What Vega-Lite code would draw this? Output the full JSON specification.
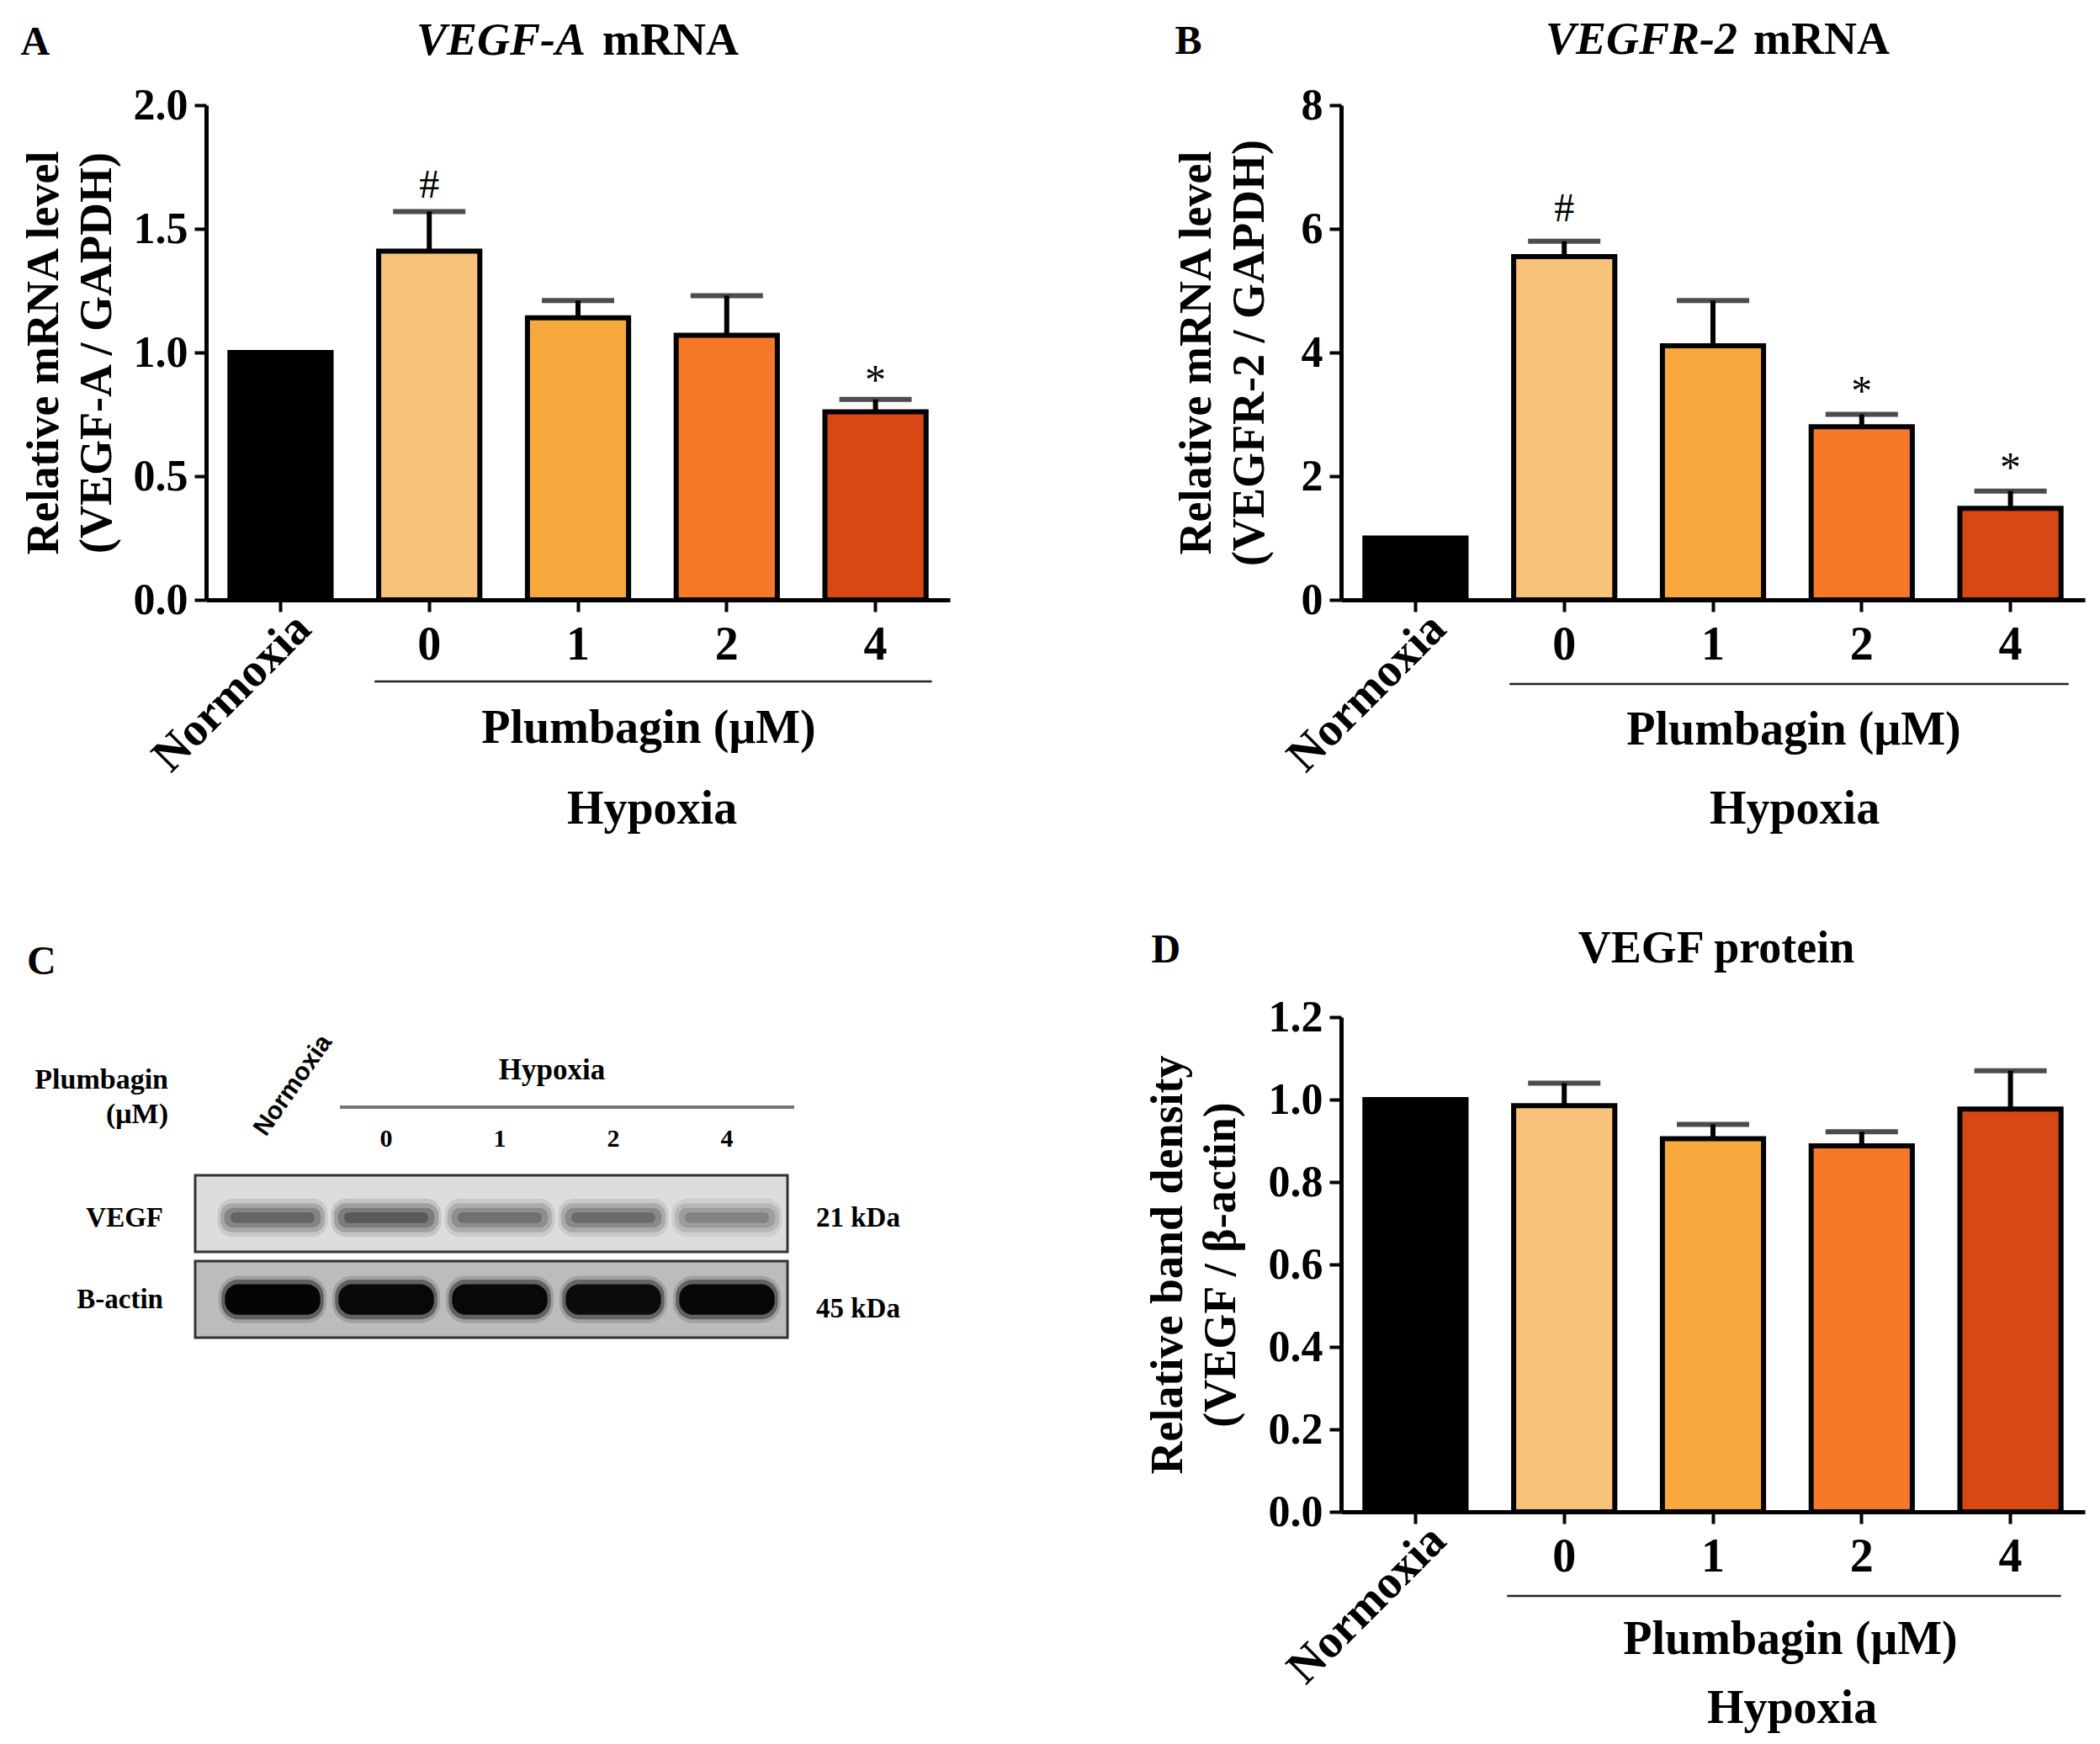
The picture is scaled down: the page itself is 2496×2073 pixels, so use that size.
{
  "$schema": "https://vega.github.io/schema/vega-lite/v6.json",
  "background": "white",
  "padding": {"left": 24, "top": 21, "right": 10, "bottom": 10},
  "bounds": "flush",
  "spacing": 1349,
  "config": {
    "view": {"stroke": null},
    "font": "Liberation Serif",
    "axis": {"domainColor": "black", "domainWidth": 5, "tickColor": "black", "tickWidth": 4, "tickSize": 14, "labelFont": "Liberation Serif", "labelFontWeight": "bold", "labelColor": "black", "titleFont": "Liberation Serif", "titleFontWeight": "bold", "titleColor": "black", "titleFontSize": 54, "grid": false, "labelOverlap": false, "labelBound": false, "labelFlush": false, "labelLimit": 0},
    "text": {"font": "Liberation Serif", "fontWeight": "bold", "color": "black"}
  },
  "datasets": {
    "A": [
      {"group": "Normoxia", "mean": 1.0, "upper": null, "sig": ""},
      {"group": "0", "mean": 1.41, "upper": 1.57, "sig": "#"},
      {"group": "1", "mean": 1.14, "upper": 1.21, "sig": ""},
      {"group": "2", "mean": 1.07, "upper": 1.23, "sig": ""},
      {"group": "4", "mean": 0.76, "upper": 0.81, "sig": "*"}
    ],
    "B": [
      {"group": "Normoxia", "mean": 1.0, "upper": null, "sig": ""},
      {"group": "0", "mean": 5.55, "upper": 5.8, "sig": "#"},
      {"group": "1", "mean": 4.11, "upper": 4.84, "sig": ""},
      {"group": "2", "mean": 2.8, "upper": 3.0, "sig": "*"},
      {"group": "4", "mean": 1.48, "upper": 1.76, "sig": "*"}
    ],
    "D": [
      {"group": "Normoxia", "mean": 1.0, "upper": null, "sig": ""},
      {"group": "0", "mean": 0.985, "upper": 1.04, "sig": ""},
      {"group": "1", "mean": 0.905, "upper": 0.94, "sig": ""},
      {"group": "2", "mean": 0.888, "upper": 0.922, "sig": ""},
      {"group": "4", "mean": 0.977, "upper": 1.07, "sig": ""}
    ],
    "boxes": [{"protein": "VEGF"}, {"protein": "B-actin"}],
    "blot": [
      {"protein": "VEGF", "lane": "Normoxia", "intensity": 0.8},
      {"protein": "VEGF", "lane": "0", "intensity": 0.9},
      {"protein": "VEGF", "lane": "1", "intensity": 0.7},
      {"protein": "VEGF", "lane": "2", "intensity": 0.75},
      {"protein": "VEGF", "lane": "4", "intensity": 0.55},
      {"protein": "B-actin", "lane": "Normoxia", "intensity": 1.0},
      {"protein": "B-actin", "lane": "0", "intensity": 0.97},
      {"protein": "B-actin", "lane": "1", "intensity": 0.97},
      {"protein": "B-actin", "lane": "2", "intensity": 0.93},
      {"protein": "B-actin", "lane": "4", "intensity": 0.98}
    ]
  },
  "hconcat": [
    {
      "bounds": "flush",
      "spacing": 684,
      "vconcat": [
        {
          "width": 884, "height": 588,
          "data": {"name": "A"},
          "layer": [
            {"mark": {"type": "bar", "stroke": "black", "strokeWidth": 6},
             "encoding": {
               "x": {"field": "group", "type": "nominal", "sort": null, "scale": {"domain": ["Normoxia", "0", "1", "2", "4"], "paddingInner": 0.32, "paddingOuter": 0.16},
                     "axis": {"title": null, "labelFontSize": 56,
                              "labelAngle": {"expr": "datum.value === 'Normoxia' ? -45 : 0"},
                              "labelAlign": {"expr": "datum.value === 'Normoxia' ? 'right' : 'center'"},
                              "labelBaseline": {"expr": "datum.value === 'Normoxia' ? 'middle' : 'top'"},
                              "labelOffset": {"expr": "datum.value === 'Normoxia' ? 27 : 0"},
                              "labelPadding": {"expr": "datum.value === 'Normoxia' ? 11 : 12"}}},
               "y": {"field": "mean", "type": "quantitative", "scale": {"domain": [0, 2], "nice": false},
                     "axis": {"values": [0, 0.5, 1, 1.5, 2], "format": ".1f", "labelFontSize": 52, "labelPadding": 8, "title": ["Relative mRNA level", "(VEGF-A / GAPDH)"], "titlePadding": 16, "titleLineHeight": 63}},
               "color": {"field": "group", "type": "nominal", "scale": {"domain": ["Normoxia", "0", "1", "2", "4"], "range": ["#000000", "#F8C27A", "#F7A93E", "#F67929", "#D74814"]}, "legend": null}
             }},
            {"transform": [{"filter": "datum.upper != null"}], "mark": {"type": "rule", "strokeWidth": 6, "color": "black"},
             "encoding": {"x": {"field": "group", "type": "nominal"}, "y": {"field": "mean", "type": "quantitative"}, "y2": {"field": "upper"}}},
            {"transform": [{"filter": "datum.upper != null"}], "mark": {"type": "tick", "thickness": 6, "size": 86, "color": "black"},
             "encoding": {"x": {"field": "group", "type": "nominal"}, "y": {"field": "upper", "type": "quantitative"}}},
            {"transform": [{"filter": "datum.sig === '#'"}], "mark": {"type": "text", "text": "#", "fontSize": 48, "fontWeight": "normal", "dy": -16, "baseline": "alphabetic"},
             "encoding": {"x": {"field": "group", "type": "nominal"}, "y": {"field": "upper", "type": "quantitative"}}},
            {"transform": [{"filter": "datum.sig === '*'"}], "mark": {"type": "text", "text": "*", "fontSize": 50, "fontWeight": "normal", "dy": -7, "baseline": "alphabetic"},
             "encoding": {"x": {"field": "group", "type": "nominal"}, "y": {"field": "upper", "type": "quantitative"}}},
            {"data": {"values": [{}]}, "mark": {"type": "rule", "color": "#222222", "strokeWidth": 2.5, "xOffset": -65, "x2Offset": 67, "yOffset": 97},
             "encoding": {"x": {"datum": "0"}, "x2": {"datum": "4"}, "y": {"datum": 0}}},
            {"data": {"values": [{}]}, "mark": {"type": "text", "text": "Plumbagin (μM)", "fontSize": 56, "dx": 84, "dy": 170, "baseline": "alphabetic"},
             "encoding": {"x": {"datum": "1"}, "y": {"datum": 0}}},
            {"data": {"values": [{}]}, "mark": {"type": "text", "text": "Hypoxia", "fontSize": 56, "dx": 88, "dy": 266, "baseline": "alphabetic"},
             "encoding": {"x": {"datum": "1"}, "y": {"datum": 0}}},
            {"data": {"values": [{}]}, "mark": {"type": "text", "text": "A", "fontSize": 48, "align": "left", "dx": -309, "dy": -60, "baseline": "alphabetic"},
             "encoding": {"x": {"datum": "Normoxia"}, "y": {"datum": 2}}},
            {"data": {"values": [{}]}, "mark": {"type": "text", "text": "VEGF-A", "fontSize": 54, "fontStyle": "italic", "align": "right", "dx": 9, "dy": -60, "baseline": "alphabetic"},
             "encoding": {"x": {"datum": "1"}, "y": {"datum": 2}}},
            {"data": {"values": [{}]}, "mark": {"type": "text", "text": "mRNA", "fontSize": 54, "align": "left", "dx": 29, "dy": -60, "baseline": "alphabetic"},
             "encoding": {"x": {"datum": "1"}, "y": {"datum": 2}}}
          ]
        },
        {
          "width": 695, "height": 193,
          "layer": [
            {"data": {"name": "boxes"}, "mark": {"type": "rect", "stroke": "#333333", "strokeWidth": 3, "xOffset": -92, "x2Offset": 72},
             "encoding": {"x": {"datum": "Normoxia", "scale": {"domain": ["Normoxia", "0", "1", "2", "4"], "paddingInner": 0, "paddingOuter": 0.074, "align": 0.575}, "axis": null},
                          "x2": {"datum": "4"},
                          "y": {"field": "protein", "type": "nominal", "sort": null, "scale": {"domain": ["VEGF", "B-actin"], "paddingInner": 0.11, "paddingOuter": 0}, "axis": null},
                          "fill": {"field": "protein", "type": "nominal", "scale": {"domain": ["VEGF", "B-actin"], "range": ["#dddddd", "#bcbcbc"]}, "legend": null}}},
            {"data": {"name": "blot"}, "transform": [{"filter": "datum.protein === 'VEGF'"}],
             "mark": {"type": "rect", "color": "black", "fillOpacity": 0.12, "cornerRadius": 18, "width": {"band": 0.97}, "height": {"band": 0.5}, "yOffset": 5},
             "encoding": {"x": {"field": "lane", "type": "nominal"}, "y": {"field": "protein", "type": "nominal"},
                          "opacity": {"field": "intensity", "type": "quantitative", "scale": null, "legend": null}}},
            {"data": {"name": "blot"}, "transform": [{"filter": "datum.protein === 'VEGF'"}],
             "mark": {"type": "rect", "color": "black", "fillOpacity": 0.2, "cornerRadius": 14, "width": {"band": 0.92}, "height": {"band": 0.38}, "yOffset": 5},
             "encoding": {"x": {"field": "lane", "type": "nominal"}, "y": {"field": "protein", "type": "nominal"},
                          "opacity": {"field": "intensity", "type": "quantitative", "scale": null, "legend": null}}},
            {"data": {"name": "blot"}, "transform": [{"filter": "datum.protein === 'VEGF'"}],
             "mark": {"type": "rect", "color": "black", "fillOpacity": 0.25, "cornerRadius": 10, "width": {"band": 0.85}, "height": {"band": 0.26}, "yOffset": 5},
             "encoding": {"x": {"field": "lane", "type": "nominal"}, "y": {"field": "protein", "type": "nominal"},
                          "opacity": {"field": "intensity", "type": "quantitative", "scale": null, "legend": null}}},
            {"data": {"name": "blot"}, "transform": [{"filter": "datum.protein === 'VEGF'"}],
             "mark": {"type": "rect", "color": "black", "fillOpacity": 0.3, "cornerRadius": 6, "width": {"band": 0.74}, "height": {"band": 0.14}, "yOffset": 5},
             "encoding": {"x": {"field": "lane", "type": "nominal"}, "y": {"field": "protein", "type": "nominal"},
                          "opacity": {"field": "intensity", "type": "quantitative", "scale": null, "legend": null}}},
            {"data": {"name": "blot"}, "transform": [{"filter": "datum.protein === 'B-actin'"}],
             "mark": {"type": "rect", "color": "black", "fillOpacity": 0.15, "cornerRadius": 24, "width": {"band": 0.95}, "height": {"band": 0.62}},
             "encoding": {"x": {"field": "lane", "type": "nominal"}, "y": {"field": "protein", "type": "nominal"},
                          "opacity": {"field": "intensity", "type": "quantitative", "scale": null, "legend": null}}},
            {"data": {"name": "blot"}, "transform": [{"filter": "datum.protein === 'B-actin'"}],
             "mark": {"type": "rect", "color": "black", "fillOpacity": 0.4, "cornerRadius": 20, "width": {"band": 0.9}, "height": {"band": 0.52}},
             "encoding": {"x": {"field": "lane", "type": "nominal"}, "y": {"field": "protein", "type": "nominal"},
                          "opacity": {"field": "intensity", "type": "quantitative", "scale": null, "legend": null}}},
            {"data": {"name": "blot"}, "transform": [{"filter": "datum.protein === 'B-actin'"}],
             "mark": {"type": "rect", "color": "black", "fillOpacity": 0.95, "cornerRadius": 16, "width": {"band": 0.84}, "height": {"band": 0.4}},
             "encoding": {"x": {"field": "lane", "type": "nominal"}, "y": {"field": "protein", "type": "nominal"},
                          "opacity": {"field": "intensity", "type": "quantitative", "scale": null, "legend": null}}},
            {"data": {"name": "blot"}, "transform": [{"filter": "datum.protein === 'VEGF' && datum.lane !== 'Normoxia'"}],
             "mark": {"type": "text", "fontSize": 30, "dy": -79.5, "baseline": "alphabetic"},
             "encoding": {"x": {"field": "lane", "type": "nominal"}, "y": {"datum": "VEGF"}, "text": {"field": "lane"}}},
            {"data": {"values": [{}]}, "mark": {"type": "text", "text": "Normoxia", "font": "Liberation Sans", "fontSize": 30, "angle": -55, "align": "left", "baseline": "alphabetic", "dx": 69.5, "dy": -58.5},
             "encoding": {"x": {"datum": "Normoxia"}, "y": {"datum": "VEGF"}}},
            {"data": {"values": [{}]}, "mark": {"type": "text", "text": "Hypoxia", "fontSize": 35, "dx": 62, "dy": -159.5, "baseline": "alphabetic"},
             "encoding": {"x": {"datum": "1"}, "y": {"datum": "VEGF"}}},
            {"data": {"values": [{}]}, "mark": {"type": "rule", "color": "#777777", "strokeWidth": 4, "xOffset": -55, "x2Offset": 80, "yOffset": -126.5},
             "encoding": {"x": {"datum": "0"}, "x2": {"datum": "4"}, "y": {"datum": "VEGF"}}},
            {"data": {"values": [{}]}, "mark": {"type": "text", "text": "Plumbagin", "fontSize": 34, "align": "right", "dx": -124, "dy": -148.5, "baseline": "alphabetic"},
             "encoding": {"x": {"datum": "Normoxia"}, "y": {"datum": "VEGF"}}},
            {"data": {"values": [{}]}, "mark": {"type": "text", "text": "(μM)", "fontSize": 34, "align": "right", "dx": -124, "dy": -107.5, "baseline": "alphabetic"},
             "encoding": {"x": {"datum": "Normoxia"}, "y": {"datum": "VEGF"}}},
            {"data": {"values": [{}]}, "mark": {"type": "text", "text": "C", "fontSize": 48, "align": "left", "dx": -292, "dy": -284.5, "baseline": "alphabetic"},
             "encoding": {"x": {"datum": "Normoxia"}, "y": {"datum": "VEGF"}}},
            {"data": {"values": [{}]}, "mark": {"type": "text", "text": "VEGF", "fontSize": 33, "align": "right", "dx": -130, "dy": 5.5, "baseline": "middle"},
             "encoding": {"x": {"datum": "Normoxia"}, "y": {"datum": "VEGF"}}},
            {"data": {"values": [{}]}, "mark": {"type": "text", "text": "B-actin", "fontSize": 33, "align": "right", "dx": -130, "dy": 0, "baseline": "middle"},
             "encoding": {"x": {"datum": "Normoxia"}, "y": {"datum": "B-actin"}}},
            {"data": {"values": [{}]}, "mark": {"type": "text", "text": "21 kDa", "fontSize": 33, "align": "left", "dx": 106, "dy": 5.5, "baseline": "middle"},
             "encoding": {"x": {"datum": "4"}, "y": {"datum": "VEGF"}}},
            {"data": {"values": [{}]}, "mark": {"type": "text", "text": "45 kDa", "fontSize": 33, "align": "left", "dx": 106, "dy": 11.5, "baseline": "middle"},
             "encoding": {"x": {"datum": "4"}, "y": {"datum": "B-actin"}}}
          ]
        }
      ]
    },
    {
      "bounds": "flush",
      "spacing": 496,
      "vconcat": [
        {
          "width": 884, "height": 588,
          "data": {"name": "B"},
          "layer": [
            {"mark": {"type": "bar", "stroke": "black", "strokeWidth": 6},
             "encoding": {
               "x": {"field": "group", "type": "nominal", "sort": null, "scale": {"domain": ["Normoxia", "0", "1", "2", "4"], "paddingInner": 0.32, "paddingOuter": 0.16},
                     "axis": {"title": null, "labelFontSize": 56,
                              "labelAngle": {"expr": "datum.value === 'Normoxia' ? -45 : 0"},
                              "labelAlign": {"expr": "datum.value === 'Normoxia' ? 'right' : 'center'"},
                              "labelBaseline": {"expr": "datum.value === 'Normoxia' ? 'middle' : 'top'"},
                              "labelOffset": {"expr": "datum.value === 'Normoxia' ? 27 : 0"},
                              "labelPadding": {"expr": "datum.value === 'Normoxia' ? 11 : 12"}}},
               "y": {"field": "mean", "type": "quantitative", "scale": {"domain": [0, 8], "nice": false},
                     "axis": {"values": [0, 2, 4, 6, 8], "format": "d", "labelFontSize": 52, "labelPadding": 8, "title": ["Relative mRNA level", "(VEGFR-2 / GAPDH)"], "titlePadding": 34, "titleLineHeight": 63}},
               "color": {"field": "group", "type": "nominal", "scale": {"domain": ["Normoxia", "0", "1", "2", "4"], "range": ["#000000", "#F8C27A", "#F7A93E", "#F67929", "#D74814"]}, "legend": null}
             }},
            {"transform": [{"filter": "datum.upper != null"}], "mark": {"type": "rule", "strokeWidth": 6, "color": "black"},
             "encoding": {"x": {"field": "group", "type": "nominal"}, "y": {"field": "mean", "type": "quantitative"}, "y2": {"field": "upper"}}},
            {"transform": [{"filter": "datum.upper != null"}], "mark": {"type": "tick", "thickness": 6, "size": 86, "color": "black"},
             "encoding": {"x": {"field": "group", "type": "nominal"}, "y": {"field": "upper", "type": "quantitative"}}},
            {"transform": [{"filter": "datum.sig === '#'"}], "mark": {"type": "text", "text": "#", "fontSize": 48, "fontWeight": "normal", "dy": -24, "baseline": "alphabetic"},
             "encoding": {"x": {"field": "group", "type": "nominal"}, "y": {"field": "upper", "type": "quantitative"}}},
            {"transform": [{"filter": "datum.sig === '*'"}], "mark": {"type": "text", "text": "*", "fontSize": 50, "fontWeight": "normal", "dy": -12, "baseline": "alphabetic"},
             "encoding": {"x": {"field": "group", "type": "nominal"}, "y": {"field": "upper", "type": "quantitative"}}},
            {"data": {"values": [{}]}, "mark": {"type": "rule", "color": "#222222", "strokeWidth": 2.5, "xOffset": -65, "x2Offset": 69, "yOffset": 100},
             "encoding": {"x": {"datum": "0"}, "x2": {"datum": "4"}, "y": {"datum": 0}}},
            {"data": {"values": [{}]}, "mark": {"type": "text", "text": "Plumbagin (μM)", "fontSize": 56, "dx": 96, "dy": 172, "baseline": "alphabetic"},
             "encoding": {"x": {"datum": "1"}, "y": {"datum": 0}}},
            {"data": {"values": [{}]}, "mark": {"type": "text", "text": "Hypoxia", "fontSize": 56, "dx": 97, "dy": 266, "baseline": "alphabetic"},
             "encoding": {"x": {"datum": "1"}, "y": {"datum": 0}}},
            {"data": {"values": [{}]}, "mark": {"type": "text", "text": "B", "fontSize": 48, "align": "left", "dx": -286, "dy": -61, "baseline": "alphabetic"},
             "encoding": {"x": {"datum": "Normoxia"}, "y": {"datum": 8}}},
            {"data": {"values": [{}]}, "mark": {"type": "text", "text": "VEGFR-2", "fontSize": 54, "fontStyle": "italic", "align": "right", "dx": 29, "dy": -61, "baseline": "alphabetic"},
             "encoding": {"x": {"datum": "1"}, "y": {"datum": 8}}},
            {"data": {"values": [{}]}, "mark": {"type": "text", "text": "mRNA", "fontSize": 54, "align": "left", "dx": 48, "dy": -61, "baseline": "alphabetic"},
             "encoding": {"x": {"datum": "1"}, "y": {"datum": 8}}}
          ]
        },
        {
          "width": 884, "height": 588,
          "data": {"name": "D"},
          "layer": [
            {"mark": {"type": "bar", "stroke": "black", "strokeWidth": 6},
             "encoding": {
               "x": {"field": "group", "type": "nominal", "sort": null, "scale": {"domain": ["Normoxia", "0", "1", "2", "4"], "paddingInner": 0.32, "paddingOuter": 0.16},
                     "axis": {"title": null, "labelFontSize": 56,
                              "labelAngle": {"expr": "datum.value === 'Normoxia' ? -45 : 0"},
                              "labelAlign": {"expr": "datum.value === 'Normoxia' ? 'right' : 'center'"},
                              "labelBaseline": {"expr": "datum.value === 'Normoxia' ? 'middle' : 'top'"},
                              "labelOffset": {"expr": "datum.value === 'Normoxia' ? 27 : 0"},
                              "labelPadding": {"expr": "datum.value === 'Normoxia' ? 11 : 12"}}},
               "y": {"field": "mean", "type": "quantitative", "scale": {"domain": [0, 1.2], "nice": false},
                     "axis": {"values": [0, 0.2, 0.4, 0.6, 0.8, 1.0, 1.2], "format": ".1f", "labelFontSize": 52, "labelPadding": 8, "title": ["Relative band density", "(VEGF / β-actin)"], "titlePadding": 29, "titleLineHeight": 63}},
               "color": {"field": "group", "type": "nominal", "scale": {"domain": ["Normoxia", "0", "1", "2", "4"], "range": ["#000000", "#F8C27A", "#F7A93E", "#F67929", "#D74814"]}, "legend": null}
             }},
            {"transform": [{"filter": "datum.upper != null"}], "mark": {"type": "rule", "strokeWidth": 6, "color": "black"},
             "encoding": {"x": {"field": "group", "type": "nominal"}, "y": {"field": "mean", "type": "quantitative"}, "y2": {"field": "upper"}}},
            {"transform": [{"filter": "datum.upper != null"}], "mark": {"type": "tick", "thickness": 6, "size": 86, "color": "black"},
             "encoding": {"x": {"field": "group", "type": "nominal"}, "y": {"field": "upper", "type": "quantitative"}}},
            {"data": {"values": [{}]}, "mark": {"type": "rule", "color": "#222222", "strokeWidth": 2.5, "xOffset": -68, "x2Offset": 60, "yOffset": 100},
             "encoding": {"x": {"datum": "0"}, "x2": {"datum": "4"}, "y": {"datum": 0}}},
            {"data": {"values": [{}]}, "mark": {"type": "text", "text": "Plumbagin (μM)", "fontSize": 56, "dx": 92, "dy": 169, "baseline": "alphabetic"},
             "encoding": {"x": {"datum": "1"}, "y": {"datum": 0}}},
            {"data": {"values": [{}]}, "mark": {"type": "text", "text": "Hypoxia", "fontSize": 56, "dx": 94, "dy": 251, "baseline": "alphabetic"},
             "encoding": {"x": {"datum": "1"}, "y": {"datum": 0}}},
            {"data": {"values": [{}]}, "mark": {"type": "text", "text": "D", "fontSize": 48, "align": "left", "dx": -314, "dy": -65, "baseline": "alphabetic"},
             "encoding": {"x": {"datum": "Normoxia"}, "y": {"datum": 1.2}}},
            {"data": {"values": [{}]}, "mark": {"type": "text", "text": "VEGF protein", "fontSize": 54, "dx": 4, "dy": -65, "baseline": "alphabetic"},
             "encoding": {"x": {"datum": "1"}, "y": {"datum": 1.2}}}
          ]
        }
      ]
    }
  ]
}
